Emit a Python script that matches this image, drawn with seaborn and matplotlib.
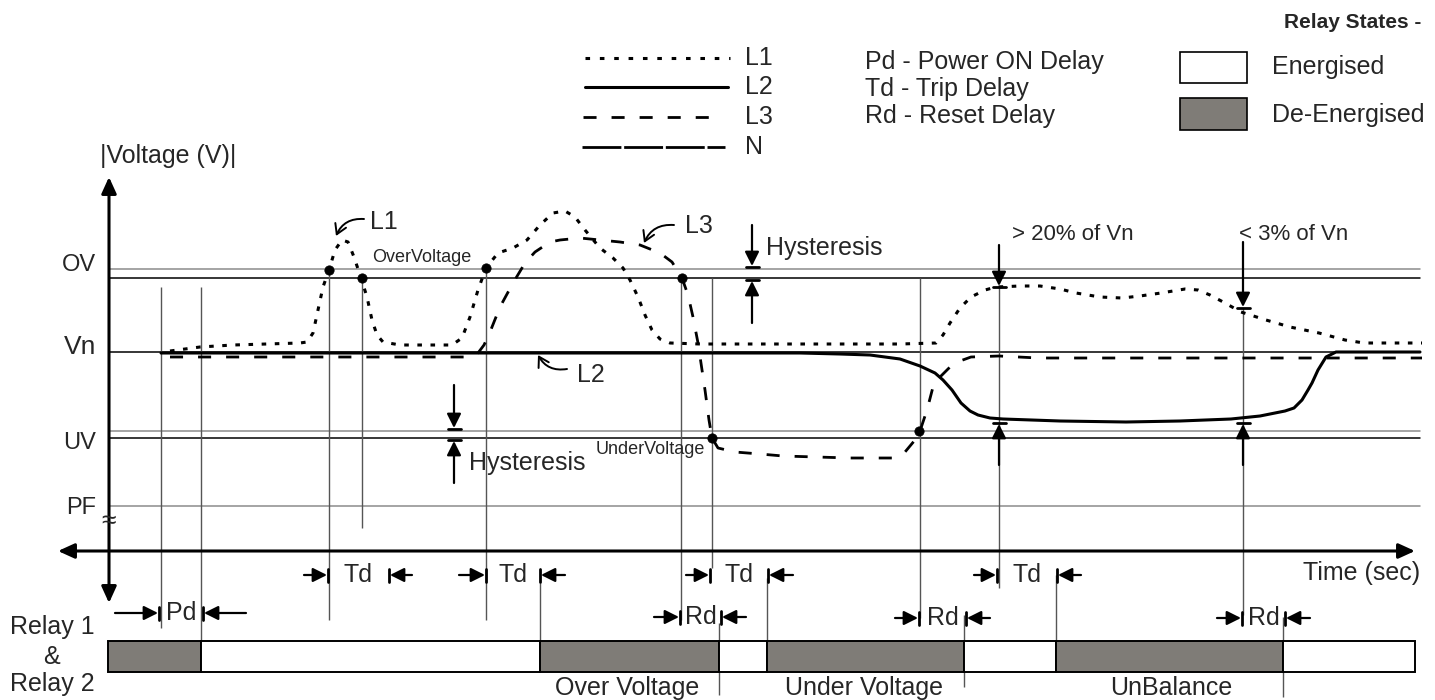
import numpy as np
import pandas as pd
import matplotlib.pyplot as plt
import seaborn as sns

#Phase traces (x = time, y = screen level, small y = high voltage)
l1_t = [170, 185, 200, 233, 300, 307, 313, 318, 323, 329, 335, 342, 348, 354, 361, 367, 372, 377, 383, 400,
        440, 452, 462, 470, 478, 486, 498, 513, 527, 540, 553, 565, 575, 585, 600, 613, 623, 630, 638, 645,
        652, 660, 670, 700, 800, 900, 936, 943, 950, 960, 971, 985, 996, 1020, 1040, 1060, 1076, 1100,
        1122, 1140, 1161, 1185, 1198, 1210, 1225, 1241, 1266, 1290, 1319, 1345, 1364, 1422]
l1_v = [351, 349, 347, 345, 343, 342, 333, 310, 287, 270, 250, 240, 242, 257, 278, 297, 320, 335, 342, 345,
        345, 345, 338, 317, 290, 268, 253, 248, 240, 225, 213, 211, 217, 230, 248, 258, 268, 280, 297, 315,
        330, 339, 343, 344, 344, 344, 343, 335, 323, 308, 297, 290, 287, 286, 286, 289, 293, 297,
        298, 296, 293, 289, 290, 295, 303, 312, 320, 327, 333, 340, 343, 343]

l2_t = [161, 300, 500, 700, 800, 840, 870, 900, 920, 935, 943, 952, 961, 970, 978, 990, 1003, 1060, 1126,
        1180, 1231, 1260, 1285, 1294, 1302, 1308, 1312, 1318, 1326, 1336, 1420]
l2_v = [353, 353, 353, 353, 353, 354, 355, 359, 366, 373, 380, 390, 403, 411, 415, 418, 419, 421, 422,
        421, 419, 416, 411, 408, 400, 390, 383, 370, 357, 352, 352]

l3_t = [170, 300, 465, 472, 478, 484, 490, 500, 513, 525, 535, 550, 560, 580, 600, 620, 640, 660, 672, 682,
        688, 693, 698, 705, 709, 712, 718, 735, 760, 783, 850, 894, 905, 915, 920, 927, 933, 940, 950,
        960, 971, 999, 1038, 1422]
l3_v = [357, 357, 357, 356, 353, 345, 332, 307, 283, 263, 252, 242, 240, 238, 240, 242, 245, 253, 262, 278,
        295, 317, 343, 390, 420, 438, 448, 452, 454, 456, 458, 458, 452, 440, 431, 410, 387, 377, 367,
        361, 357, 356, 358, 358]

#Trip / reset points
trip_t = [329, 362, 486, 682, 712, 919]
trip_v = [270, 278, 268, 278, 438, 431]

#Threshold levels
level_names = ["OV", "Vn", "UV", "PF"]
level_label_y = [265, 347, 443, 508]
level_label_size = [17, 19, 17, 17]
ref_y = [269, 278, 352, 431, 438, 506]
ref_color = ["#8c8c8c", "black", "black", "#8c8c8c", "black", "#8c8c8c"]

#Thin vertical guides (x, top, bottom)
guide_x = [161, 201, 329, 362, 486, 540, 681, 712, 719, 767, 920, 964, 999, 1056, 1243, 1283]
guide_top = [287, 287, 270, 278, 268, 583, 278, 278, 623, 578, 278, 615, 287, 575, 308, 617]
guide_bot = [628, 640, 620, 528, 620, 640, 620, 568, 695, 640, 618, 687, 588, 640, 615, 697]

#Relay state bar: 1 = energised, 0 = de-energised
relay_edges = [108, 201, 540, 719, 767, 964, 1056, 1283, 1415]
relay_on = [0, 1, 0, 1, 0, 1, 0, 1]
relay_names = ["Over Voltage", "Under Voltage", "UnBalance"]
relay_name_x = [627, 864, 1171]

#Delay dimension marks: label, left bar, right bar, left tail, right tail, y
delay_lab = ["Pd", "Td", "Td", "Td", "Td", "Rd", "Rd", "Rd"]
delay_l = [159, 328, 486, 710, 997, 680, 919, 1242]
delay_r = [203, 389, 540, 768, 1057, 721, 966, 1285]
delay_tl = [115, 304, 459, 686, 974, 654, 895, 1217]
delay_tr = [246, 412, 565, 793, 1081, 746, 990, 1310]
delay_y = [613, 575, 575, 575, 575, 617, 618, 618]

GRAY = "#7f7c77"
FS = 18

sns.set_theme(style="white")
plt.rcParams['font.family'] = ['Liberation Sans', 'DejaVu Sans']

fig = plt.figure(figsize=(14.35, 7), dpi=100)
ax = fig.add_axes([0, 0, 1, 1])
ax.set_xlim(0, 1435)
ax.set_ylim(700, 0)
ax.axis('off')

def arrow(tail, tip, lw=1.6, ms=17):
    ax.annotate('', xy=tip, xytext=tail,
                arrowprops=dict(arrowstyle='-|>,head_length=0.5,head_width=0.25', color='black',
                                lw=lw, shrinkA=0, shrinkB=0, mutation_scale=ms))

def vbar_arrow(x, tail, tip, bar):
    arrow((x, tail), (x, tip))
    ax.plot([x - 6.5, x + 6.5], [bar, bar], color='black', lw=2)

#reference levels
for y, c in zip(ref_y, ref_color):
    ax.plot([109, 1420], [y, y], color=c, lw=1.1, zorder=1)
for name, y, s in zip(level_names, level_label_y, level_label_size):
    ax.text(96, y, name, ha='right', va='center', fontsize=s)

#guides
ax.vlines(guide_x, guide_top, guide_bot, color='#555555', lw=1.0, zorder=1)

#axes
ax.annotate('', xy=(109, 177), xytext=(109, 603),
            arrowprops=dict(arrowstyle='<|-|>,head_length=0.55,head_width=0.25', color='black',
                            lw=2.2, shrinkA=0, shrinkB=0, mutation_scale=18))
ax.annotate('', xy=(1415, 551), xytext=(58, 551),
            arrowprops=dict(arrowstyle='<|-|>,head_length=0.55,head_width=0.25', color='black',
                            lw=2.2, shrinkA=0, shrinkB=0, mutation_scale=18))
ax.text(109, 521, "≈", ha='center', va='center', fontsize=19)
ax.text(168, 156, "|Voltage (V)|", ha='center', va='center', fontsize=FS)
ax.text(1420, 573, "Time (sec)", ha='right', va='center', fontsize=FS)

#phase curves
sns.lineplot(x=l1_t, y=l1_v, ax=ax, color='black', lw=2.2, linestyle=(0, (1.5, 2.8)),
             sort=False, estimator=None, zorder=3)
sns.lineplot(x=l2_t, y=l2_v, ax=ax, color='black', lw=2.2, sort=False, estimator=None, zorder=3)
sns.lineplot(x=l3_t, y=l3_v, ax=ax, color='black', lw=2.0, linestyle=(0, (4.7, 5.4)),
             sort=False, estimator=None, zorder=3)
sns.scatterplot(x=trip_t, y=trip_v, ax=ax, color='black', s=45, edgecolor='black', zorder=4)

#curve labels
ax.text(370, 222, "L1", va='center', fontsize=FS)
ax.text(685, 226, "L3", va='center', fontsize=FS)
ax.text(577, 375, "L2", va='center', fontsize=FS)
for tail, tip, rad in [((364, 219), (336, 236), 0.35), ((674, 225), (644, 243), 0.35),
                       ((567, 369), (538, 355), -0.35)]:
    ax.annotate('', xy=tip, xytext=tail,
                arrowprops=dict(arrowstyle='->,head_length=0.5,head_width=0.3', color='black', lw=1.4,
                                shrinkA=0, shrinkB=0, mutation_scale=14,
                                connectionstyle=f"arc3,rad={rad}"))
ax.text(372, 258, "OverVoltage", va='center', fontsize=13)
ax.text(596, 450, "UnderVoltage", va='center', fontsize=13)

#hysteresis marks
vbar_arrow(752, 225, 266, 267)
vbar_arrow(752, 323, 281, 280)
ax.text(766, 248, "Hysteresis", va='center', fontsize=FS)
vbar_arrow(454, 385, 428, 429)
vbar_arrow(454, 483, 441, 440)
ax.text(469, 463, "Hysteresis", va='center', fontsize=FS)

#unbalance marks
vbar_arrow(999, 245, 286, 287)
vbar_arrow(999, 465, 424, 423)
vbar_arrow(1243, 242, 307, 308)
vbar_arrow(1243, 465, 424, 423)
ax.text(1012, 235, "> 20% of Vn", va='center', fontsize=16)
ax.text(1239, 235, "< 3% of Vn", va='center', fontsize=16)

#delay dimensions
for lab, xl, xr, tl, tr, y in zip(delay_lab, delay_l, delay_r, delay_tl, delay_tr, delay_y):
    arrow((tl, y), (xl - 1, y))
    arrow((tr, y), (xr + 1, y))
    ax.plot([xl, xl], [y - 6.5, y + 6.5], color='black', lw=2)
    ax.plot([xr, xr], [y - 6.5, y + 6.5], color='black', lw=2)
    ax.text((xl + xr) / 2, y, lab, ha='center', va='center', fontsize=FS)

#relay bar
widths = np.diff(relay_edges)
colors = [('white' if s else GRAY) for s in relay_on]
ax.barh(656.5, widths, left=relay_edges[:-1], height=31, color=colors, edgecolor='black', lw=1.4,
        zorder=2)
for name, x in zip(relay_names, relay_name_x):
    ax.text(x, 688, name, ha='center', va='center', fontsize=FS)
ax.text(52, 627, "Relay 1", ha='center', va='center', fontsize=FS)
ax.text(52, 657, "&", ha='center', va='center', fontsize=FS)
ax.text(52, 684, "Relay 2", ha='center', va='center', fontsize=FS)

#legend: line styles
leg_y = [58, 87, 117, 147]
ax.plot([585, 730], [58, 58], color='black', lw=2.2, linestyle=(0, (1.5, 3.2)))
ax.plot([585, 728], [87, 87], color='black', lw=2.2)
ax.plot([583, 715], [117, 117], color='black', lw=2.0, linestyle=(0, (4.7, 5.4)))
ax.plot([582, 725], [147, 147], color='black', lw=2.0, linestyle=(0, (14, 1)))
for y, name in zip(leg_y, ["L1", "L2", "L3", "N"]):
    ax.text(745, y, name, va='center', fontsize=FS)

#legend: delays
for y, txt in zip([62, 89, 116], ["Pd - Power ON Delay", "Td - Trip Delay", "Rd - Reset Delay"]):
    ax.text(865, y, txt, va='center', fontsize=FS)

#legend: relay states
ax.text(1421, 22, "Relay States -", ha='right', va='center', fontsize=15, fontweight='bold')
ax.add_patch(plt.Rectangle((1180, 52), 67, 31, facecolor='white', edgecolor='black', lw=1.2))
ax.add_patch(plt.Rectangle((1180, 98), 67, 32, facecolor=GRAY, edgecolor='black', lw=1.2))
ax.text(1272, 67, "Energised", va='center', fontsize=FS)
ax.text(1272, 115, "De-Energised", va='center', fontsize=FS)

fig.savefig("out.png", dpi=100)
